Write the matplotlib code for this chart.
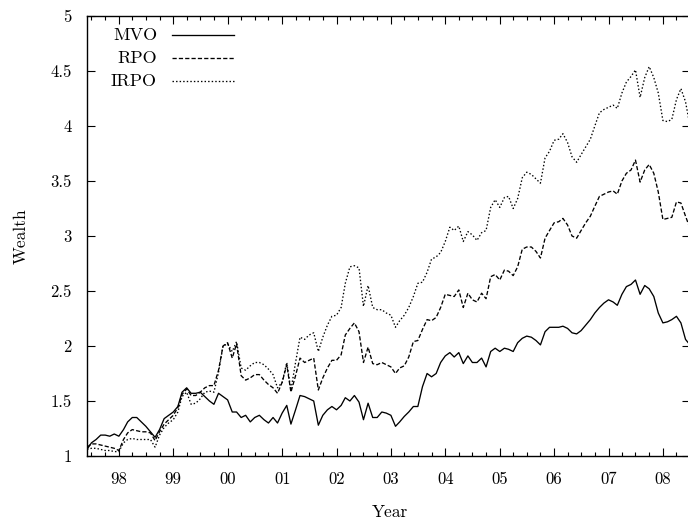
import matplotlib
matplotlib.use("Agg")
import matplotlib.pyplot as plt
import matplotlib.dates as mdates
import numpy as np
import pandas as pd

plt.rcParams["font.family"] = ["cmr10", "DejaVu Serif"]
plt.rcParams["axes.formatter.use_mathtext"] = True

# monthly wealth, Jun 1997 .. Jul 2008
months = pd.date_range("1997-06-01", periods=134, freq="MS")

mvo = [1.06, 1.12, 1.15, 1.19, 1.19, 1.18, 1.20, 1.18, 1.24, 1.31,
       1.35, 1.35, 1.31, 1.27, 1.22, 1.17, 1.24, 1.34, 1.37, 1.40,
       1.45, 1.58, 1.62, 1.57, 1.57, 1.58, 1.54, 1.50, 1.47, 1.57,
       1.54, 1.51, 1.40, 1.40, 1.35, 1.37, 1.31, 1.35, 1.37, 1.33,
       1.30, 1.35, 1.30, 1.39, 1.46, 1.29, 1.42, 1.55, 1.54, 1.52,
       1.50, 1.28, 1.37, 1.42, 1.45, 1.42, 1.46, 1.53, 1.50, 1.55,
       1.49, 1.33, 1.48, 1.35, 1.35, 1.40, 1.39, 1.37, 1.27, 1.31,
       1.36, 1.40, 1.45, 1.45, 1.63, 1.75, 1.72, 1.75, 1.85, 1.91,
       1.94, 1.90, 1.94, 1.84, 1.91, 1.85, 1.85, 1.89, 1.81, 1.95,
       1.98, 1.95, 1.98, 1.97, 1.95, 2.03, 2.07, 2.09, 2.08, 2.05,
       2.01, 2.13, 2.17, 2.17, 2.17, 2.18, 2.16, 2.12, 2.11, 2.14,
       2.19, 2.24, 2.30, 2.35, 2.39, 2.42, 2.40, 2.37, 2.47, 2.54,
       2.56, 2.60, 2.47, 2.55, 2.52, 2.45, 2.30, 2.21, 2.22, 2.24,
       2.27, 2.21, 2.06, 2.01]

rpo = [1.08, 1.11, 1.11, 1.10, 1.09, 1.08, 1.07, 1.05, 1.15, 1.21,
       1.24, 1.23, 1.22, 1.22, 1.21, 1.14, 1.22, 1.29, 1.33, 1.37,
       1.44, 1.56, 1.61, 1.55, 1.55, 1.58, 1.62, 1.64, 1.64, 1.78,
       2.00, 2.03, 1.89, 2.02, 1.73, 1.69, 1.71, 1.74, 1.74, 1.69,
       1.65, 1.62, 1.57, 1.67, 1.83, 1.58, 1.73, 1.89, 1.85, 1.87,
       1.89, 1.60, 1.71, 1.80, 1.87, 1.87, 1.92, 2.10, 2.16, 2.21,
       2.13, 1.85, 1.99, 1.84, 1.83, 1.85, 1.83, 1.81, 1.75, 1.80,
       1.82, 1.90, 2.04, 2.05, 2.15, 2.24, 2.23, 2.26, 2.35, 2.47,
       2.46, 2.45, 2.51, 2.35, 2.48, 2.42, 2.40, 2.48, 2.43, 2.63,
       2.65, 2.60, 2.69, 2.68, 2.64, 2.72, 2.88, 2.90, 2.90, 2.86,
       2.80, 2.98, 3.05, 3.12, 3.13, 3.16, 3.10, 3.00, 2.98, 3.05,
       3.12, 3.18, 3.27, 3.36, 3.38, 3.40, 3.41, 3.38, 3.50, 3.57,
       3.60, 3.69, 3.49, 3.60, 3.65, 3.57, 3.40, 3.15, 3.16, 3.17,
       3.31, 3.30, 3.18, 3.07]

irpo = [1.06, 1.07, 1.07, 1.06, 1.05, 1.05, 1.04, 1.04, 1.12, 1.15,
        1.16, 1.15, 1.15, 1.15, 1.15, 1.08, 1.19, 1.26, 1.30, 1.33,
        1.40, 1.54, 1.58, 1.47, 1.48, 1.52, 1.58, 1.59, 1.58, 1.76,
        2.00, 2.02, 1.95, 2.04, 1.80, 1.78, 1.82, 1.85, 1.85, 1.83,
        1.79, 1.74, 1.62, 1.67, 1.85, 1.60, 1.85, 2.08, 2.06, 2.10,
        2.12, 1.95, 2.08, 2.19, 2.27, 2.28, 2.35, 2.57, 2.72, 2.73,
        2.71, 2.36, 2.55, 2.35, 2.33, 2.33, 2.30, 2.28, 2.17, 2.23,
        2.28, 2.35, 2.45, 2.57, 2.58, 2.67, 2.79, 2.81, 2.85, 2.95,
        3.08, 3.05, 3.09, 2.95, 3.04, 3.01, 2.96, 3.03, 3.05, 3.26,
        3.33, 3.26, 3.35, 3.36, 3.25, 3.34, 3.53, 3.58, 3.56, 3.52,
        3.48, 3.71, 3.77, 3.87, 3.88, 3.93, 3.85, 3.72, 3.67, 3.74,
        3.81, 3.88, 4.00, 4.12, 4.15, 4.17, 4.19, 4.16, 4.30, 4.40,
        4.45, 4.51, 4.26, 4.44, 4.54, 4.44, 4.30, 4.05, 4.04, 4.06,
        4.24, 4.34, 4.22, 4.00]

labels = ["MVO", "RPO", "IRPO"]
series = [mvo, rpo, irpo]
dash_styles = [None, (3.2, 1.6), (1.1, 1.6)]

fig = plt.figure(figsize=(6.88, 5.22), dpi=100)
ax = fig.add_axes([87 / 688, 66 / 522, 603 / 688, 440 / 522])

for vals, ds in zip(series, dash_styles):
    ln, = ax.plot(months, vals, color="black", lw=0.95)
    if ds is not None:
        ln.set_dashes(ds)

ax.set_xlim(months[0], months[-1])
ax.set_ylim(1, 5)

ax.xaxis.set_major_locator(mdates.YearLocator())
ax.xaxis.set_major_formatter(mdates.DateFormatter("%y"))
ax.xaxis.set_minor_locator(mdates.MonthLocator(bymonth=[1, 4, 7, 10]))
ax.set_yticks(np.arange(1, 5.01, 0.5))
ax.yaxis.set_major_formatter(plt.FuncFormatter(lambda v, p: "%g" % v))

ax.tick_params(axis="both", which="both", direction="in", top=True,
               right=True, labelsize=12, width=0.8)
ax.tick_params(axis="both", which="major", length=6)
ax.tick_params(axis="both", which="minor", length=3)
ax.tick_params(axis="y", pad=11)
ax.tick_params(axis="x", pad=11)
for sp in ax.spines.values():
    sp.set_linewidth(1.0)

ax.set_xlabel("Year", fontsize=12.5)
ax.set_ylabel("Wealth", fontsize=12.5)
ax.xaxis.set_label_coords(0.5025, -0.11)
ax.yaxis.set_label_coords(-0.097, 0.5)

# gnuplot style key: right aligned text, sample to the right
for k, (lab, ds) in enumerate(zip(labels, dash_styles)):
    yk = 1 - (19 + 23 * k) / 440
    ax.text(70 / 603, yk, lab, transform=ax.transAxes, ha="right",
            va="center", fontsize=13)
    ln, = ax.plot([85 / 603, 147 / 603], [yk, yk], transform=ax.transAxes,
                  color="black", lw=0.95)
    if ds is not None:
        ln.set_dashes(ds)

fig.savefig("out.png", dpi=100)
